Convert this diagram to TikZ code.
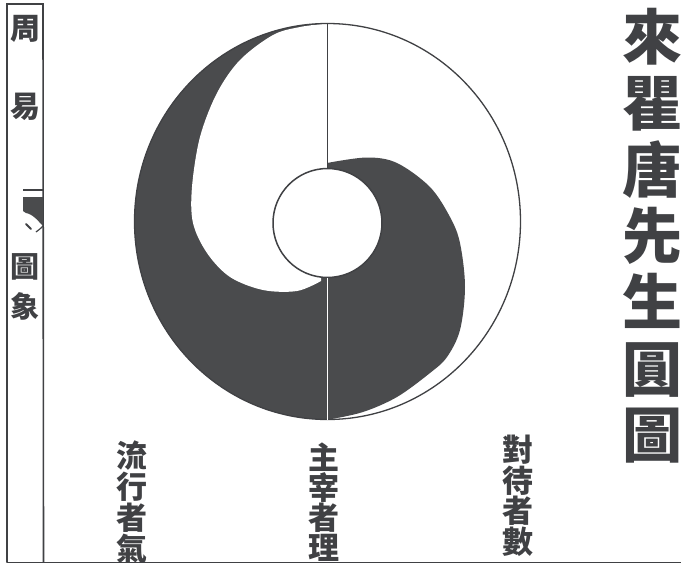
\documentclass[tikz,border=0pt]{standalone}
\usepackage{fontspec}
\usetikzlibrary{shapes.geometric}
\newfontfamily\cjk{Noto Sans CJK TC}
\definecolor{ink}{HTML}{404144}
\definecolor{fillc}{HTML}{4A4B4D}
\begin{document}
\begin{tikzpicture}[x=1pt,y=-1pt,
  rule/.style={draw=ink,line width=1.3pt},
  vtext/.style={text=ink,align=center,inner sep=0pt,anchor=north}]
\useasboundingbox (0,0) rectangle (681,565);
\fill[white] (0,0) rectangle (681,565);
% outer disc, left half dark
\begin{scope}
\clip (0,0) rectangle (327.5,565);
\fill[fillc] (327.5,221.5) ellipse [x radius=193, y radius=198];
\end{scope}
% white blob left
\fill[white] plot[smooth,tension=0.55] coordinates {(327,23.5) (300,27) (273,35) (240,60) (217,93) (200,137) (192,187) (193,223) (207,253) (230,277) (263,290) (297,291) (321,281)} -- (327,200) -- cycle;
% dark blob right
\fill[fillc] plot[smooth,tension=0.55] coordinates {(327,163) (367,157.5) (397,163) (430,187) (450,217) (460,243) (465,287) (460,330) (447,357) (430,373) (397,397) (363,412) (329,419.5)} -- (327,419.5) -- cycle;
% outer circle
\node[draw=ink,line width=1.3pt,ellipse,minimum width=386pt,minimum height=396pt,inner sep=0pt] (outer) at (327.5,221.5) {};
% inner circle
\node[circle,fill=white,draw=ink,line width=1.5pt,minimum size=109pt,inner sep=0pt] (inner) at (327.5,223) {};
% vertical lines
\draw[rule] (outer.north) -- (inner.north);
\draw[white,line width=1.6pt] (inner.south) -- (outer.south);
% frame
\coordinate (ftl) at (7,4);
\coordinate (ftr) at (43,4);
\coordinate (fbl) at (7,562.5);
\coordinate (fbr) at (43.5,562.5);
\coordinate (fend) at (681,562.5);
\draw[rule,line width=1.6pt] (fbl) -- (ftl) -- (ftr) -- (fbr);
\draw[rule,line width=1.8pt] (fbl) -- (fend);
% tab
\coordinate (t1) at (23,190);
\coordinate (t2) at (43,190);
\draw[rule] (t1) -- (t2);
\fill[fillc] (23,197) -- (43,197) -- (43,226) .. controls (39,222) and (33,214) .. (26,213) -- (23,211) -- cycle;
\draw[ink,line width=1.8pt,line cap=round] (26,224) -- (31,229);
\draw[ink,line width=1.2pt] (36,232) .. controls (39,230) and (41,228) .. (43,226);
% left column text
\node[vtext,font=\cjk\bfseries\fontsize{30}{78}\selectfont] (zhouyi) at (25,15) {周\\易};
\node[vtext,font=\cjk\bfseries\fontsize{29}{40}\selectfont] (tuxiang) at (25,253) {圖\\象};
% title
\node[vtext,font=\cjk\bfseries\fontsize{60}{66.3}\selectfont] (title) at (652,8) {來\\瞿\\唐\\先\\生\\圓\\圖};
% bottom labels
\node[vtext,font=\cjk\bfseries\fontsize{31}{31}\selectfont] (liuxing) at (132,441) {流\\行\\者\\氣};
\node[vtext,font=\cjk\bfseries\fontsize{31}{30}\selectfont] (zhuzai) at (324,443) {主\\宰\\者\\理};
\node[vtext,font=\cjk\bfseries\fontsize{31}{30.5}\selectfont] (duidai) at (518,435) {對\\待\\者\\數};
\end{tikzpicture}
\end{document}
